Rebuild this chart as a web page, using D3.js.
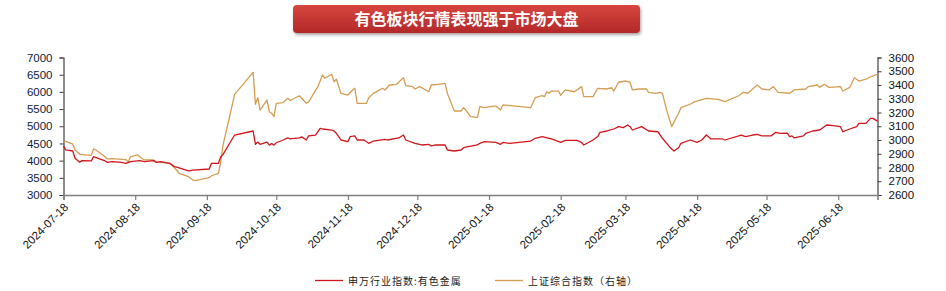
<!DOCTYPE html>
<html>
<head>
<meta charset="utf-8">
<script src="https://cdn.jsdelivr.net/npm/d3@7"></script>
<style>
  body { margin: 0; background: #fff; }
  svg { display: block; font-family: "Liberation Sans", Arial, sans-serif; }
</style>
</head>
<body>
<div id="chart"></div>
<script>
var W = 946, H = 291;

// DATA
var titleText = "有色板块行情表现强于市场大盘";
var seriesNames = ["申万行业指数:有色金属", "上证综合指数（右轴）"];

var metalDates = ["2024-07-18","2024-07-19","2024-07-22","2024-07-23","2024-07-25","2024-07-26","2024-07-30","2024-07-31",
  "2024-08-02","2024-08-05","2024-08-06","2024-08-08","2024-08-12","2024-08-14","2024-08-16","2024-08-20","2024-08-22",
  "2024-08-26","2024-08-27","2024-08-29","2024-09-02","2024-09-04","2024-09-06","2024-09-10","2024-09-12","2024-09-19",
  "2024-09-20","2024-09-23","2024-09-24","2024-09-25","2024-09-30","2024-10-08","2024-10-09","2024-10-10","2024-10-11",
  "2024-10-14","2024-10-15","2024-10-16","2024-10-17","2024-10-18","2024-10-21","2024-10-23","2024-10-24","2024-10-28",
  "2024-10-29","2024-10-31","2024-11-01","2024-11-04","2024-11-06","2024-11-07","2024-11-11","2024-11-12","2024-11-13",
  "2024-11-14","2024-11-15","2024-11-18","2024-11-19","2024-11-21","2024-11-22","2024-11-25","2024-11-26","2024-11-27",
  "2024-11-29","2024-12-04","2024-12-05","2024-12-10","2024-12-12","2024-12-13","2024-12-17","2024-12-20","2024-12-23",
  "2024-12-24","2024-12-26","2024-12-30","2024-12-31","2025-01-03","2025-01-06","2025-01-07","2025-01-09","2025-01-13",
  "2025-01-14","2025-01-16","2025-01-21","2025-01-23","2025-01-24","2025-01-27","2025-02-05","2025-02-07","2025-02-10",
  "2025-02-13","2025-02-14","2025-02-18","2025-02-20","2025-02-25","2025-02-27","2025-02-28","2025-03-04","2025-03-06",
  "2025-03-07","2025-03-10","2025-03-13","2025-03-15","2025-03-17","2025-03-19","2025-03-20","2025-03-21","2025-03-25",
  "2025-03-28","2025-04-01","2025-04-03","2025-04-06","2025-04-08","2025-04-10","2025-04-11","2025-04-15","2025-04-18",
  "2025-04-20","2025-04-22","2025-04-24","2025-04-29","2025-04-30","2025-05-06","2025-05-07","2025-05-09","2025-05-12",
  "2025-05-14","2025-05-16","2025-05-20","2025-05-22","2025-05-24","2025-05-27","2025-05-28","2025-05-29","2025-05-30",
  "2025-06-03","2025-06-04","2025-06-07","2025-06-10","2025-06-13","2025-06-16","2025-06-19","2025-06-20","2025-06-23",
  "2025-06-26","2025-06-27","2025-06-30","2025-07-02","2025-07-03","2025-07-05"];
var metalValues = [4420,4310,4280,4070,3950,4000,3990,4115,
  4067,3990,3950,3970,3950,3920,3970,4000,3970,
  4000,3950,3970,3920,3825,3790,3700,3725,3756,
  3922,3922,4114,4180,4745,4862,4475,4540,4475,
  4540,4450,4500,4450,4520,4600,4660,4630,4660,
  4690,4600,4720,4740,4940,4920,4890,4860,4795,
  4700,4600,4550,4700,4720,4600,4600,4550,4504,
  4570,4620,4600,4660,4745,4600,4504,4455,4470,
  4430,4455,4455,4309,4280,4309,4376,4405,4455,
  4504,4550,4530,4475,4530,4504,4570,4650,4700,
  4650,4630,4530,4590,4590,4530,4455,4600,4700,
  4823,4862,4920,4988,4960,5036,4988,4891,4988,
  4862,4840,4650,4405,4280,4376,4504,4600,4530,
  4600,4745,4630,4630,4600,4720,4745,4700,4745,
  4765,4720,4720,4823,4790,4800,4700,4720,4660,
  4720,4795,4862,4891,5036,5018,4988,4840,4920,
  4988,5085,5085,5230,5230,5150];

var shDates = ["2024-07-18","2024-07-19","2024-07-22","2024-07-23","2024-07-25","2024-07-30","2024-07-31","2024-08-01",
  "2024-08-05","2024-08-06","2024-08-08","2024-08-14","2024-08-15","2024-08-16","2024-08-19","2024-08-21","2024-08-22",
  "2024-08-26","2024-08-27","2024-08-29","2024-09-02","2024-09-04","2024-09-06","2024-09-10","2024-09-12","2024-09-13",
  "2024-09-19","2024-09-20","2024-09-23","2024-09-24","2024-09-25","2024-09-27","2024-09-30","2024-10-08","2024-10-09",
  "2024-10-10","2024-10-11","2024-10-14","2024-10-15","2024-10-16","2024-10-17","2024-10-18","2024-10-21","2024-10-23",
  "2024-10-24","2024-10-28","2024-10-31","2024-11-01","2024-11-05","2024-11-07","2024-11-08","2024-11-11","2024-11-12",
  "2024-11-13","2024-11-15","2024-11-18","2024-11-20","2024-11-21","2024-11-22","2024-11-26","2024-11-27","2024-11-29",
  "2024-12-03","2024-12-04","2024-12-06","2024-12-09","2024-12-12","2024-12-13","2024-12-16","2024-12-17","2024-12-19",
  "2024-12-23","2024-12-24","2024-12-27","2024-12-30","2024-12-31","2025-01-03","2025-01-06","2025-01-07","2025-01-08",
  "2025-01-10","2025-01-13","2025-01-14","2025-01-16","2025-01-20","2025-01-21","2025-01-23","2025-01-24","2025-02-05",
  "2025-02-07","2025-02-10","2025-02-11","2025-02-12","2025-02-13","2025-02-14","2025-02-17","2025-02-18","2025-02-20",
  "2025-02-24","2025-02-25","2025-02-27","2025-02-28","2025-03-04","2025-03-06","2025-03-10","2025-03-12","2025-03-13",
  "2025-03-15","2025-03-18","2025-03-20","2025-03-21","2025-03-24","2025-03-27","2025-03-28","2025-03-31","2025-04-02",
  "2025-04-03","2025-04-05","2025-04-07","2025-04-10","2025-04-11","2025-04-15","2025-04-17","2025-04-22","2025-04-27",
  "2025-04-30","2025-05-06","2025-05-08","2025-05-10","2025-05-12","2025-05-14","2025-05-16","2025-05-19","2025-05-21",
  "2025-05-23","2025-05-28","2025-05-30","2025-06-04","2025-06-05","2025-06-09","2025-06-10","2025-06-12","2025-06-14",
  "2025-06-19","2025-06-20","2025-06-23","2025-06-25","2025-06-27","2025-06-30","2025-07-02","2025-07-05"];
var shValues = [2985,2990,2970,2927,2896,2888,2935,2927,
  2878,2862,2865,2857,2842,2878,2891,2865,2855,
  2855,2838,2838,2830,2798,2758,2733,2709,2705,
  2726,2740,2758,2842,2964,3109,3332,3492,3260,
  3308,3218,3291,3206,3194,3170,3267,3272,3303,
  3287,3322,3267,3277,3388,3473,3449,3478,3424,
  3442,3339,3327,3364,3376,3267,3267,3308,3339,
  3376,3364,3400,3405,3453,3395,3388,3371,3388,
  3351,3400,3405,3412,3339,3211,3211,3235,3218,
  3170,3165,3242,3235,3247,3247,3218,3255,3235,
  3308,3322,3315,3351,3340,3356,3356,3325,3364,
  3351,3364,3388,3315,3315,3376,3371,3380,3356,
  3420,3429,3420,3364,3371,3371,3347,3339,3347,
  3339,3206,3097,3194,3235,3260,3279,3303,3296,
  3279,3322,3347,3340,3371,3400,3371,3364,3388,
  3347,3340,3364,3371,3388,3400,3383,3405,3383,
  3388,3356,3383,3453,3429,3442,3460,3478];

var leftTicks = [3000,3500,4000,4500,5000,5500,6000,6500,7000];
var rightTicks = [2600,2700,2800,2900,3000,3100,3200,3300,3400,3500,3600];
var dateTicks = ["2024-07-18","2024-08-18","2024-09-18","2024-10-18","2024-11-18","2024-12-18",
  "2025-01-18","2025-02-18","2025-03-18","2025-04-18","2025-05-18","2025-06-18"];
var dateRange = ["2024-07-18","2025-07-05"];

var colors = ["#d0161b", "#d49d52"];

// SCALES
var parse = d3.timeParse("%Y-%m-%d");
var plotL = 63.5, plotR = 877.5, plotT = 57.5, plotB = 195;

var x = d3.scaleTime().domain(dateRange.map(parse)).range([plotL, plotR]);
var yL = d3.scaleLinear().domain([3000, 7000]).range([plotB, plotT]);
var yR = d3.scaleLinear().domain([2600, 3600]).range([plotB, plotT]);

var svg = d3.select("#chart").append("svg").attr("width", W).attr("height", H);

// TITLE BOX
var defs = svg.append("defs");
var grad = defs.append("linearGradient").attr("id", "titleGrad").attr("x1", 0).attr("y1", 0).attr("x2", 0).attr("y2", 1);
grad.append("stop").attr("offset", "0%").attr("stop-color", "#d8463f");
grad.append("stop").attr("offset", "100%").attr("stop-color", "#b3282a");
var shadow = defs.append("filter").attr("id", "shadow").attr("x", "-5%").attr("y", "-20%").attr("width", "110%").attr("height", "160%");
shadow.append("feDropShadow").attr("dx", 1).attr("dy", 2).attr("stdDeviation", 1.5).attr("flood-color", "#000").attr("flood-opacity", 0.35);

svg.append("rect").attr("x", 293).attr("y", 5).attr("width", 347).attr("height", 28)
  .attr("rx", 4).attr("fill", "url(#titleGrad)").attr("filter", "url(#shadow)");
svg.append("text").attr("x", 466.5).attr("y", 25).attr("text-anchor", "middle")
  .style("font-family", "'Noto Sans CJK SC', sans-serif").style("font-size", "16px").style("font-weight", "bold")
  .style("fill", "#fff").text(titleText);

// AXES
var leftAxis = svg.append("g").attr("transform", "translate(" + plotL + ",0)")
  .call(d3.axisLeft(yL).tickValues(leftTicks).tickFormat(d3.format("d")).tickSize(4).tickPadding(7));
var rightAxis = svg.append("g").attr("transform", "translate(" + plotR + ",0)")
  .call(d3.axisRight(yR).tickValues(rightTicks).tickFormat(d3.format("d")).tickSize(4).tickPadding(7));
var bottomAxis = svg.append("g").attr("transform", "translate(0," + plotB + ")")
  .call(d3.axisBottom(x).tickValues(dateTicks.map(parse)).tickFormat(d3.timeFormat("%Y-%m-%d")).tickSize(5));

[leftAxis, rightAxis].forEach(function(a) {
  a.select(".domain").attr("stroke", "#404040").attr("stroke-width", 1.2);
  a.selectAll(".tick line").attr("stroke", "#404040");
  a.selectAll("text").style("font-size", "11.5px").style("fill", "#111");
});
leftAxis.selectAll("text").style("fill", "#0d1b3e");
bottomAxis.select(".domain").attr("stroke", "#7f7f7f").attr("stroke-width", 1.6);
bottomAxis.selectAll(".tick line").attr("stroke", "#7f7f7f").attr("stroke-width", 1.2);
bottomAxis.selectAll("text")
  .style("font-size", "11.5px").style("fill", "#111")
  .attr("text-anchor", "end").attr("dy", null).attr("y", 0)
  .attr("transform", "translate(5,13) rotate(-45)");

// LINES
var lineL = d3.line().x(function(d) { return x(d[0]); }).y(function(d) { return yL(d[1]); });
var lineR = d3.line().x(function(d) { return x(d[0]); }).y(function(d) { return yR(d[1]); });

var shData = shDates.map(function(d, i) { return [parse(d), shValues[i]]; });
var metalData = metalDates.map(function(d, i) { return [parse(d), metalValues[i]]; });

svg.append("path").datum(shData).attr("d", lineR)
  .attr("fill", "none").attr("stroke", colors[1]).attr("stroke-width", 1.3).attr("stroke-linejoin", "round");
svg.append("path").datum(metalData).attr("d", lineL)
  .attr("fill", "none").attr("stroke", colors[0]).attr("stroke-width", 1.3).attr("stroke-linejoin", "round");

// LEGEND
var legendX = [315, 495];
seriesNames.forEach(function(name, i) {
  var g = svg.append("g").attr("transform", "translate(" + legendX[i] + ",280.5)");
  g.append("line").attr("x1", 0).attr("x2", 28).attr("y1", 0).attr("y2", 0)
    .attr("stroke", colors[i]).attr("stroke-width", 1.3);
  g.append("text").attr("x", 33).attr("y", 4)
    .style("font-family", "'Noto Sans CJK SC', sans-serif").style("font-size", "10px")
    .style("letter-spacing", "1px").style("fill", "#222").text(name);
});
</script>
</body>
</html>
